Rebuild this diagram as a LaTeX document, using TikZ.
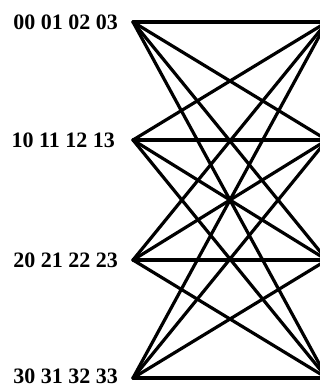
\documentclass[tikz,border=0pt]{standalone}
\usepackage{fontspec}
\setmainfont{Liberation Serif}
\usetikzlibrary{positioning}

\begin{document}
\begin{tikzpicture}[x=1pt,y=-1pt,
    edge/.style={line width=3.2pt,line cap=round},
    rowlabel/.style={font=\fontsize{22}{24}\selectfont\bfseries,anchor=east,inner sep=0pt}]
  \useasboundingbox (0,0) rectangle (320,388);
  % left and right ends of each row
  \foreach \i/\y in {0/22,1/140,2/260,3/378}{
    \coordinate (L\i) at (133,\y);
    \coordinate (R\i) at (327,\y);
  }
  \node[rowlabel,left=15pt of L0] (lab0) {00 01 02 03};
  \node[rowlabel,left=18pt of L1] (lab1) {10 11 12 13};
  \node[rowlabel,left=15pt of L2] (lab2) {20 21 22 23};
  \node[rowlabel,left=15pt of L3,yshift=2pt] (lab3) {30 31 32 33};
  % every left point to every right point
  \foreach \i in {0,...,3}
    \foreach \j in {0,...,3}
      \draw[edge] (L\i) -- (R\j);
\end{tikzpicture}
\end{document}
